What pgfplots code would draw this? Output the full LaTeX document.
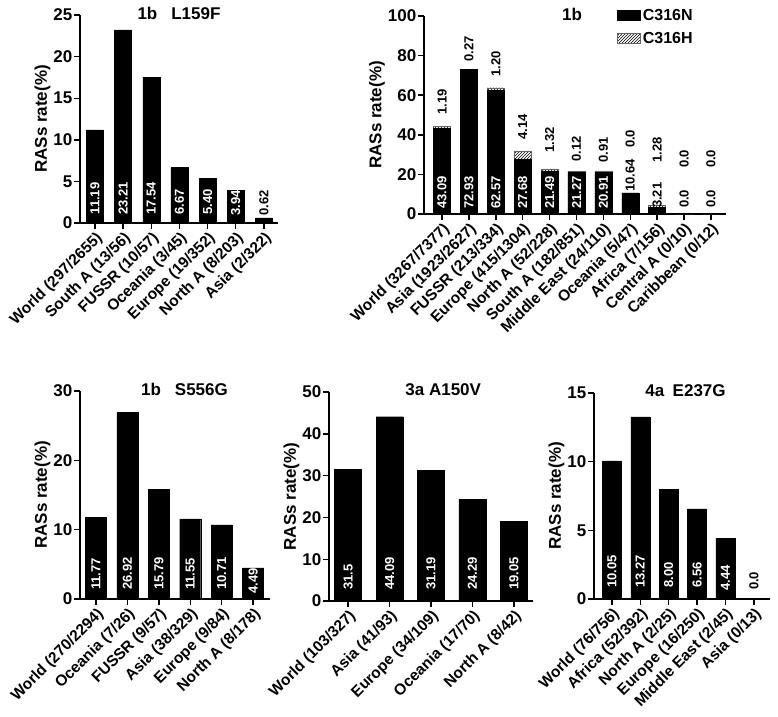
\documentclass[border=0pt]{standalone}
\usepackage{fontspec}
\setmainfont{Liberation Sans}
\usepackage{pgfplots}
\pgfplotsset{compat=1.18}
\usepackage{pgfplotstable}
\usetikzlibrary{patterns}

\newcommand{\fs}[1]{\fontsize{#1}{#1}\selectfont}

\pgfplotsset{
  gp/.style={
    scale only axis,
    axis lines*=left,
    axis line style={line width=1.6pt, -},
    tick style={line width=1.4pt, black},
    major tick length=6pt,
    tick align=outside,
    ymin=0, clip=false,
    /pgf/number format/assume math mode=true,
    yticklabel style={font=\bfseries\fs{17}, inner sep=1.5pt},
    xticklabel style={font=\bfseries\fs{15.5}, rotate=45, anchor=north east, inner sep=1pt},
    ylabel={\bfseries RASs rate(\%)},
    ylabel style={font=\fs{17}, yshift=-2pt},
    title style={font=\bfseries\fs{17}, at={(axis description cs:0.5,1)}, anchor=center, yshift=-4pt},
  },
  bars/.style={ybar, bar width=#1, fill=black, draw=black},
  lab/.style={draw=none, mark=none, nodes near coords, point meta=explicit symbolic,
    every node near coord/.append style={rotate=90, anchor=west, inner sep=0pt, font=\bfseries\fs{13}, text=#1}},
}

\begin{document}
\begin{tikzpicture}
\useasboundingbox (0,0) rectangle (778pt,716pt);

% ---- 1b L159F
\begin{axis}[gp, at={(80pt,493pt)}, anchor=south west,
  width=198pt, height=208pt, xmin=-0.53, xmax=6.5, ymax=25,
  ytick={0,5,...,25}, xtick={0,...,6},
  xticklabels={World (297/2655), South A (13/56), FUSSR (10/57), Oceania (3/45), Europe (19/352), North A (8/203), Asia (2/322)},
  title={1b\hspace{14pt}L159F}]
\addplot[bars=17pt] coordinates {(0,11.19) (1,23.21) (2,17.54) (3,6.67) (4,5.40) (5,3.94) (6,0.62)};
\addplot[lab=white] coordinates {(0,1.0)[11.19] (1,1.0)[23.21] (2,1.0)[17.54] (3,1.0)[6.67] (4,1.0)[5.40] (5,0.9)[3.94]};
\addplot[lab=black] coordinates {(6,0.9)[0.62]};
\end{axis}

% ---- 1b C316N / C316H
\pgfplotstableread{
x N H
0 43.09 1.19
1 72.93 0.27
2 62.57 1.20
3 27.68 4.14
4 21.49 1.32
5 21.27 0.12
6 20.91 0.91
7 10.64 0.0
8 3.21 1.28
9 0.0 0.0
10 0.0 0.0
}\tabC
\begin{axis}[gp, at={(424pt,502pt)}, anchor=south west,
  width=302pt, height=198pt, xmin=-0.67, xmax=10.56, ymax=100,
  ytick={0,20,...,100}, xtick={0,...,10},
  xticklabels={World (3267/7377), Asia (1923/2627), FUSSR (213/334), Europe (415/1304), North A (52/228), South A (182/851), Middle East (24/110), Oceania (5/47), Africa (7/156), Central A (0/10), Caribbean (0/12)},
  title={1b}, title style={at={(axis description cs:0.49,1)}},
  legend style={at={(axis description cs:0.64,1.045)}, anchor=north west, draw=none, fill=none,
    font=\bfseries\fs{16}, row sep=6pt, inner sep=0pt},
  legend cell align=left,
  legend image code/.code={\draw[#1] (-4pt,-5pt) rectangle (19pt,5pt);}]
\addplot[ybar, bar width=17pt, pattern=north east lines, draw=black!60, forget plot]
  table[x=x, y expr=\thisrow{N}+\thisrow{H}] {\tabC};
\addplot[bars=17pt] table[x=x, y=N] {\tabC};
\addlegendentry{C316N}
\addlegendimage{pattern=north east lines, draw=black!60}
\addlegendentry{C316H}
\addplot[lab=white, forget plot] coordinates {(0,2.5)[43.09] (1,2.5)[72.93] (2,2.5)[62.57] (3,2.5)[27.68] (4,2.5)[21.49] (5,2.5)[21.27] (6,2.5)[20.91]};
\addplot[lab=black, forget plot] coordinates {(7,11.1)[10.64] (8,3)[3.21] (9,3)[0.0] (10,3)[0.0]};
\addplot[lab=black, forget plot] coordinates {(0,50.0)[1.19] (1,76.8)[0.27] (2,69.2)[1.20] (3,37.4)[4.14] (4,30.8)[1.32] (5,26.3)[0.12] (6,25.8)[0.91] (7,33.3)[0.0] (8,25.8)[1.28] (9,23.2)[0.0] (10,23.2)[0.0]};
\end{axis}

% ---- 1b S556G
\begin{axis}[gp, at={(80pt,117pt)}, anchor=south west,
  width=190pt, height=208pt, xmin=-0.51, xmax=5.54, ymax=30,
  ytick={0,10,20,30}, xtick={0,...,5},
  xticklabels={World (270/2294), Oceania (7/26), FUSSR (9/57), Asia (38/329), Europe (9/84), North A (8/178)},
  title={1b\hspace{14pt}S556G}, title style={at={(axis description cs:0.55,1)}}]
\addplot[bars=21pt] coordinates {(0,11.77) (1,26.92) (2,15.79) (3,11.55) (4,10.71) (5,4.49)};
\addplot[lab=white] coordinates {(0,1.3)[11.77] (1,1.3)[26.92] (2,1.3)[15.79] (3,1.3)[11.55] (4,1.3)[10.71] (5,0.8)[4.49]};
\end{axis}

% ---- 3a A150V
\begin{axis}[gp, at={(329pt,115pt)}, anchor=south west,
  width=204pt, height=209pt, xmin=-0.46, xmax=4.46, ymax=50,
  ytick={0,10,...,50}, xtick={0,...,4},
  xticklabels={World (103/327), Asia (41/93), Europe (34/109), Oceania (17/70), North A (8/42)},
  title={3a A150V}, title style={at={(axis description cs:0.56,1)}}]
\addplot[bars=27pt] coordinates {(0,31.5) (1,44.09) (2,31.19) (3,24.29) (4,19.05)};
\addplot[lab=white] coordinates {(0,2.6)[31.5] (1,2.6)[44.09] (2,2.6)[31.19] (3,2.6)[24.29] (4,2.6)[19.05]};
\end{axis}

% ---- 4a E237G
\begin{axis}[gp, at={(594pt,117pt)}, anchor=south west,
  width=176pt, height=206pt, xmin=-0.63, xmax=5.57, ymax=15,
  ytick={0,5,10,15}, xtick={0,...,5},
  xticklabels={World (76/756), Africa (52/392), North A (2/25), Europe (16/250), Middle East (2/45), Asia (0/13)},
  title={4a\enspace E237G}, title style={at={(axis description cs:0.52,1)}}]
\addplot[bars=19pt] coordinates {(0,10.05) (1,13.27) (2,8.00) (3,6.56) (4,4.44) (5,0)};
\addplot[lab=white] coordinates {(0,0.8)[10.05] (1,0.8)[13.27] (2,0.8)[8.00] (3,0.8)[6.56] (4,0.6)[4.44]};
\addplot[lab=black] coordinates {(5,0.65)[0.0]};
\end{axis}
\end{tikzpicture}
\end{document}
